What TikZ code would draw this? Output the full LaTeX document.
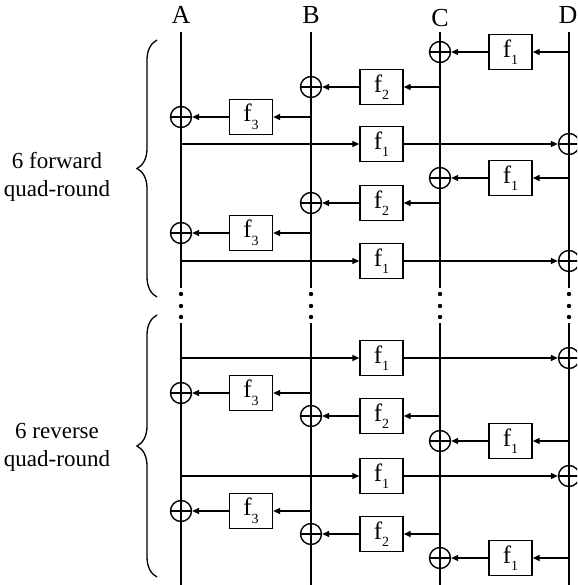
\documentclass[tikz,border=0pt]{standalone}
\usepackage{fontspec}
\setmainfont{Liberation Serif}
\usetikzlibrary{arrows.meta,decorations.pathreplacing}
\newcommand{\fsub}[1]{f\raisebox{-0.3em}{\fontsize{14}{14}\selectfont #1}}
\tikzset{
  wire/.style={line width=1.4pt},
  arr/.style={line width=1.4pt,-{Triangle[length=7pt,width=6pt]}},
  fbox/.style={draw,line width=1.4pt,minimum width=43pt,minimum height=35pt,inner sep=0pt,font=\fontsize{25}{25}\selectfont},
  xor/.style={draw,circle,line width=1.4pt,minimum size=21pt,inner sep=0pt,
    path picture={\draw[line width=1.4pt] (path picture bounding box.west) -- (path picture bounding box.east);
                  \draw[line width=1.4pt] (path picture bounding box.north) -- (path picture bounding box.south);}},
  lbl/.style={font=\fontsize{26}{26}\selectfont,inner sep=0pt},
  bracetext/.style={font=\fontsize{23}{28}\selectfont,align=center,inner sep=0pt},
  bracedeco/.style={decorate,line width=1.3pt,decoration={brace,amplitude=20pt}},
  dot/.style={fill=black}
}
\begin{document}
\begin{tikzpicture}[x=1pt,y=-1pt]
\path[use as bounding box,clip] (0,0) rectangle (577,585);
% labels
\node[lbl] (LA) at (181,15) {A};
\node[lbl] (LB) at (311,15) {B};
\node[lbl] (LC) at (440,18) {C};
\node[lbl] (LD) at (568,15) {D};
% vertical wires
\foreach \x/\n in {181/A,311/B,440/C,569/D}{
  \coordinate (\n top) at (\x,32);
  \coordinate (\n mid1) at (\x,288);
  \coordinate (\n mid2) at (\x,323);
  \coordinate (\n bot) at (\x,586);
  \draw[wire] (\n top) -- (\n mid1);
  \draw[wire] (\n mid2) -- (\n bot);
  \foreach \yy in {294,306,317}{ \fill[dot] (\x,\yy) circle (2.2pt); }
}
% D -> f1 -> XOR on C
\foreach \y/\n in {52/1,178/2,441/3,558/4}{
  \coordinate (dR\n) at (569,\y);
  \node[fbox] (fR\n) at (510.5,\y) {\fsub{1}};
  \node[xor] (xR\n) at (440,\y) {};
  \draw[arr] (dR\n) -- (fR\n);
  \draw[arr] (fR\n) -- (xR\n);
}
% C -> f2 -> XOR on B
\foreach \y/\n in {87/1,203/2,416/3,534/4}{
  \coordinate (cS\n) at (440,\y);
  \node[fbox] (fS\n) at (381.5,\y) {\fsub{2}};
  \node[xor] (xS\n) at (311,\y) {};
  \draw[arr] (cS\n) -- (fS\n);
  \draw[arr] (fS\n) -- (xS\n);
}
% B -> f3 -> XOR on A
\foreach \y/\n in {117/1,233/2,393/3,511/4}{
  \coordinate (bT\n) at (311,\y);
  \node[fbox] (fT\n) at (251,\y) {\fsub{3}};
  \node[xor] (xT\n) at (181,\y) {};
  \draw[arr] (bT\n) -- (fT\n);
  \draw[arr] (fT\n) -- (xT\n);
}
% A -> f1 -> XOR on D
\foreach \y/\n in {144/1,261/2,358/3,476/4}{
  \coordinate (aU\n) at (181,\y);
  \node[fbox] (fU\n) at (381.5,\y) {\fsub{1}};
  \node[xor] (xU\n) at (569,\y) {};
  \draw[arr] (aU\n) -- (fU\n);
  \draw[arr] (fU\n) -- (xU\n);
}
% braces
\coordinate (br1b) at (157,297);
\coordinate (br1t) at (157,40);
\draw[bracedeco] (br1b) -- (br1t);
\node[bracetext] (T1) at (57,177) {6 forward\\quad-round};
\coordinate (br2b) at (157,577);
\coordinate (br2t) at (157,315);
\draw[bracedeco] (br2b) -- (br2t);
\node[bracetext] (T2) at (57,447) {6 reverse\\quad-round};
\end{tikzpicture}
\end{document}
